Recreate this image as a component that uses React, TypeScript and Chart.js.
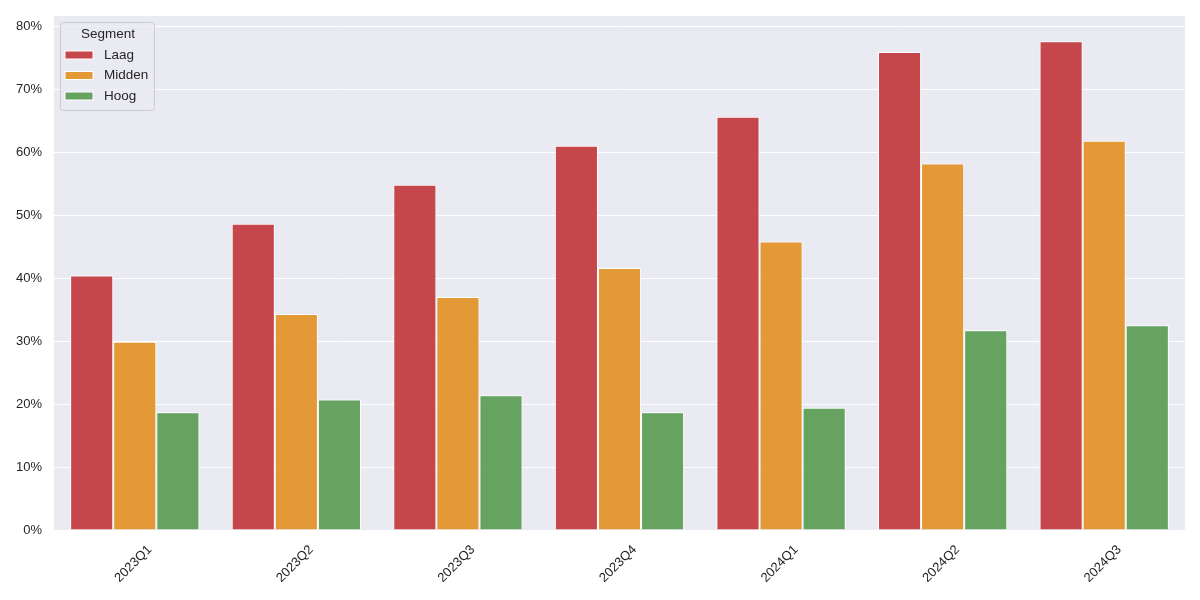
import { useEffect, useRef } from 'react';
import { Chart } from 'chart.js/auto';

const quarters = ['2023Q1', '2023Q2', '2023Q3', '2023Q4', '2024Q1', '2024Q2', '2024Q3'];
const laag = [40.4, 48.6, 54.8, 61.0, 65.6, 75.9, 77.6];
const midden = [29.9, 34.3, 37.0, 41.6, 45.8, 58.2, 61.8];
const hoog = [18.7, 20.7, 21.4, 18.7, 19.4, 31.7, 32.5];
const yTicks = [0, 10, 20, 30, 40, 50, 60, 70, 80];

const FONT = '"Liberation Sans", Arial, sans-serif';
const TEXT = '#262626';

// grey panel behind the bars, like seaborn darkgrid
const panelBg = {
  id: 'panelBg',
  beforeDraw(chart) {
    const { ctx, chartArea: a } = chart;
    ctx.save();
    ctx.fillStyle = '#EAEAF2';
    ctx.fillRect(a.left, a.top, a.right - a.left, a.bottom - a.top);
    ctx.restore();
  },
};

// legend box in the top left corner of the panel, with a title
const insetLegend = {
  id: 'insetLegend',
  afterDatasetsDraw(chart) {
    const { ctx, chartArea: a } = chart;
    const x = a.left + 6;
    const y = a.top + 6;
    const w = 94;
    const h = 88;
    ctx.save();
    ctx.fillStyle = 'rgba(234,234,242,0.8)';
    ctx.strokeStyle = '#CCCCCC';
    ctx.lineWidth = 1;
    ctx.beginPath();
    ctx.roundRect(x + 0.5, y + 0.5, w, h, 3);
    ctx.fill();
    ctx.stroke();

    ctx.fillStyle = TEXT;
    ctx.font = `13.5px ${FONT}`;
    ctx.textBaseline = 'middle';
    ctx.textAlign = 'center';
    ctx.fillText('Segment', x + w / 2 + 1, y + 12);

    ctx.textAlign = 'left';
    chart.data.datasets.forEach((ds, i) => {
      const ry = y + 33 + i * 20.5;
      ctx.fillStyle = ds.backgroundColor as string;
      ctx.fillRect(x + 5, ry - 4, 28, 8);
      ctx.strokeStyle = '#ffffff';
      ctx.strokeRect(x + 5, ry - 4, 28, 8);
      ctx.fillStyle = TEXT;
      ctx.fillText(ds.label, x + 44, ry);
    });
    ctx.restore();
  },
};

export default function App() {
  const canvasRef = useRef(null);

  useEffect(() => {
    document.body.style.margin = '0';
    if (!canvasRef.current) return;
    const ctx = canvasRef.current.getContext('2d');
    if (!ctx) return;

    const bar = (label, data, color) => ({
      label,
      data,
      backgroundColor: color,
      borderColor: '#ffffff',
      borderWidth: 1,
      categoryPercentage: 0.8,
      barPercentage: 1.0,
    });

    const chart = new Chart(ctx, {
      type: 'bar',
      data: {
        labels: quarters,
        datasets: [
          bar('Laag', laag, '#C5474B'),
          bar('Midden', midden, '#E39A36'),
          bar('Hoog', hoog, '#66A361'),
        ],
      },
      options: {
        animation: false,
        responsive: false,
        layout: { padding: { top: 16, right: 15, left: 0, bottom: 0 } },
        scales: {
          x: {
            grid: { display: false },
            border: { display: false },
            ticks: {
              color: TEXT,
              font: { family: FONT, size: 13 },
              minRotation: 45,
              maxRotation: 45,
              labelOffset: 15,
              padding: 4,
            },
            afterFit: (s) => {
              s.height = 70;
            },
          },
          y: {
            min: 0,
            max: 81.6,
            grid: { color: '#ffffff', lineWidth: 1, drawTicks: false },
            border: { display: false },
            afterBuildTicks: (s) => {
              s.ticks = yTicks.map((v) => ({ value: v }));
            },
            ticks: {
              color: TEXT,
              font: { family: FONT, size: 13 },
              padding: 12,
              callback: (v) => `${v}%`,
            },
            afterFit: (s) => {
              s.width = 54;
              s.paddingTop = 0;
              s.paddingBottom = 0;
            },
          },
        },
        plugins: {
          legend: { display: false },
          tooltip: { enabled: false },
        },
      },
      plugins: [panelBg, insetLegend],
    });

    return () => chart.destroy();
  }, []);

  return (
    <div style={{ width: 1200, height: 600 }}>
      <canvas ref={canvasRef} width={1200} height={600} />
    </div>
  );
}
